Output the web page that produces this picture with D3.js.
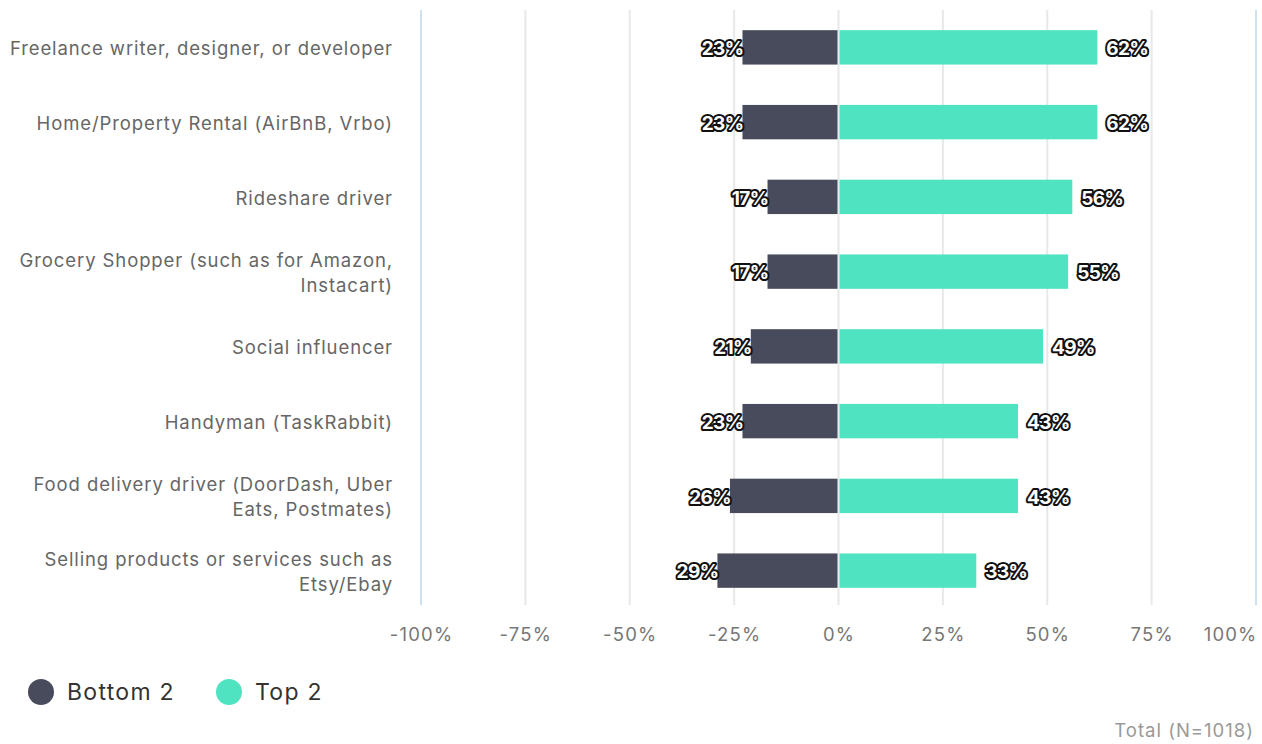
<!DOCTYPE html>
<html>
<head>
<meta charset="utf-8">
<script src="https://cdn.jsdelivr.net/npm/d3@7"></script>
<style>
  html, body { margin: 0; padding: 0; background: #fff; }
  svg { display: block; font-family: Inter, "Noto Sans", sans-serif; }
</style>
</head>
<body>
<svg id="chart" width="1262" height="744"></svg>
<script>
// Gig-work categories, top to bottom
const categories = [
  ["Freelance writer, designer, or developer"],
  ["Home/Property Rental (AirBnB, Vrbo)"],
  ["Rideshare driver"],
  ["Grocery Shopper (such as for Amazon,", "Instacart)"],
  ["Social influencer"],
  ["Handyman (TaskRabbit)"],
  ["Food delivery driver (DoorDash, Uber", "Eats, Postmates)"],
  ["Selling products or services such as", "Etsy/Ebay"]
];
const bottom2 = [23, 23, 17, 17, 21, 23, 26, 29];
const top2 = [62, 62, 56, 55, 49, 43, 43, 33];
const ticks = [-100, -75, -50, -25, 0, 25, 50, 75, 100];
const seriesNames = ["Bottom 2", "Top 2"];
const colors = ["#484b5c", "#4fe3c1"];

const svg = d3.select("#chart");
const x = d3.scaleLinear().domain([-100, 100]).range([421, 1256]);
const y = d3.scaleBand().domain(d3.range(categories.length)).range([10, 608]).paddingInner(0.54).paddingOuter(0.27);

// Vertical gridlines
svg.append("g").selectAll("line").data(ticks).join("line")
  .attr("x1", d => x(d)).attr("x2", d => x(d))
  .attr("y1", 10).attr("y2", 605)
  .attr("stroke", d => Math.abs(d) === 100 ? "#cfe0ee" : "#e8e8ea")
  .attr("stroke-width", 2);

// Tick labels
const axis = d3.axisBottom(x).tickValues(ticks).tickSize(0).tickPadding(0)
  .tickFormat(d => d + "%");
const gAxis = svg.append("g").attr("transform", "translate(0,641)").call(axis);
gAxis.select(".domain").remove();
gAxis.selectAll("text").attr("font-size", 18.5).attr("fill", "#777").attr("dy", 0)
  .attr("letter-spacing", 1.2)
  .attr("font-family", "Inter, 'Noto Sans', sans-serif");
// keep the last label inside the right edge
gAxis.selectAll(".tick").filter(d => d === 100).select("text")
  .attr("text-anchor", "end").attr("x", 1);

// Category labels
const labels = svg.append("g").selectAll("text").data(categories).join("text")
  .attr("x", 393)
  .attr("text-anchor", "end")
  .attr("font-size", 18.5)
  .attr("letter-spacing", 0.9)
  .attr("fill", "#666");
labels.each(function(lines, i) {
  const cy = y(i) + y.bandwidth() / 2 + 1.5;
  const lh = 25;
  const y0 = cy - (lines.length - 1) * lh / 2;
  d3.select(this).selectAll("tspan").data(lines).join("tspan")
    .attr("x", 393)
    .attr("y", (d, j) => y0 + j * lh)
    .attr("dy", "0.35em")
    .text(d => d);
});

// Bars
const gBars = svg.append("g");
gBars.selectAll("rect.neg").data(bottom2).join("rect")
  .attr("class", "neg")
  .attr("x", d => x(-d))
  .attr("y", (d, i) => y(i))
  .attr("width", d => x(0) - 1 - x(-d))
  .attr("height", y.bandwidth())
  .attr("fill", colors[0]);
gBars.selectAll("rect.pos").data(top2).join("rect")
  .attr("class", "pos")
  .attr("x", x(0) + 1)
  .attr("y", (d, i) => y(i))
  .attr("width", d => x(d) - x(0) - 1)
  .attr("height", y.bandwidth())
  .attr("fill", colors[1]);

// Value labels: white text with dark outline
function valueLabels(data, side) {
  svg.append("g").selectAll("text").data(data).join("text")
    .attr("x", d => side < 0 ? x(-d) + 1 : x(d) + 9)
    .attr("y", (d, i) => y(i) + y.bandwidth() / 2 + 1)
    .attr("dy", "0.36em")
    .attr("text-anchor", side < 0 ? "end" : "start")
    .attr("font-size", 19)
    .attr("font-weight", 700)
    .attr("letter-spacing", -0.6)
    .attr("fill", "#fff")
    .attr("stroke", "#111")
    .attr("stroke-width", 4)
    .attr("stroke-linejoin", "round")
    .attr("paint-order", "stroke")
    .text(d => d + "%");
}
valueLabels(bottom2, -1);
valueLabels(top2, 1);

// Legend
const legend = svg.append("g").selectAll("g").data(seriesNames).join("g")
  .attr("transform", (d, i) => `translate(${i === 0 ? 41 : 229},692)`);
legend.append("circle").attr("r", 13).attr("fill", (d, i) => colors[i]);
legend.append("text").attr("x", 26).attr("dy", "0.36em")
  .attr("font-size", 23).attr("letter-spacing", 1.3).attr("fill", "#333").text(d => d);

// Footnote
svg.append("text").attr("x", 1254).attr("y", 731).attr("dy", "0.35em")
  .attr("text-anchor", "end").attr("font-size", 18.5).attr("letter-spacing", 1)
  .attr("fill", "#999")
  .text("Total (N=1018)");
</script>
</body>
</html>
